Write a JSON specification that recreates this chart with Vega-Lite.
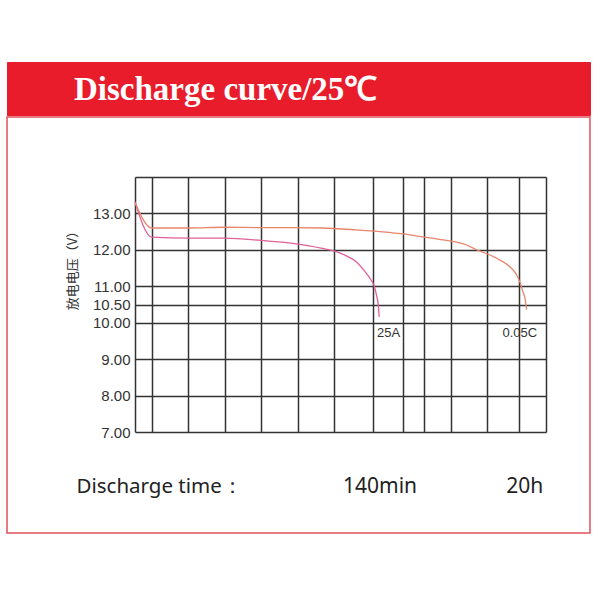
{
  "$schema": "https://vega.github.io/schema/vega-lite/v6.json",
  "padding": {"left": 6, "top": 61, "right": 9, "bottom": 67},
  "background": "white",
  "spacing": 0,
  "config": {"concat": {"spacing": 0}},
  "vconcat": [
    {
      "width": 583,
      "height": 53,
      "view": {"fill": "#e91c2b", "stroke": "#e91c2b"},
      "data": {"values": [{"title": "Discharge curve/25℃"}]},
      "mark": {"type": "text", "align": "left", "baseline": "alphabetic", "dx": -224.5, "dy": 11.5, "font": "Liberation Serif", "fontWeight": "bold", "fontSize": 33, "letterSpacing": 2, "color": "#ffffff"},
      "encoding": {"text": {"field": "title", "type": "nominal"}}
    },
    {
      "width": 583,
      "height": 416,
      "view": {"stroke": "#e0525e", "strokeWidth": 1.5},
      "resolve": {"axis": {"x": "independent", "y": "independent"}},
      "layer": [
        {
          "data": {"values": [
            {"series": "25A", "t": 0, "v": 13.31},
            {"series": "25A", "t": 4.07, "v": 12.35},
            {"series": "25A", "t": 12.98, "v": 12.32},
            {"series": "25A", "t": 21.84, "v": 12.32},
            {"series": "25A", "t": 30.68, "v": 12.26},
            {"series": "25A", "t": 37.5, "v": 12.19},
            {"series": "25A", "t": 42.37, "v": 12.11},
            {"series": "25A", "t": 45.6, "v": 12.04},
            {"series": "25A", "t": 48.45, "v": 11.97},
            {"series": "25A", "t": 51.3, "v": 11.84},
            {"series": "25A", "t": 53.74, "v": 11.68},
            {"series": "25A", "t": 55.76, "v": 11.43},
            {"series": "25A", "t": 57.39, "v": 11.18},
            {"series": "25A", "t": 58.2, "v": 11.01},
            {"series": "25A", "t": 58.75, "v": 10.76},
            {"series": "25A", "t": 59.17, "v": 10.51},
            {"series": "25A", "t": 59.41, "v": 10.16},
            {"series": "0.05C", "t": 0, "v": 13.31},
            {"series": "0.05C", "t": 4.07, "v": 12.6},
            {"series": "0.05C", "t": 12.98, "v": 12.6},
            {"series": "0.05C", "t": 21.9, "v": 12.62},
            {"series": "0.05C", "t": 30.68, "v": 12.61},
            {"series": "0.05C", "t": 37.5, "v": 12.61},
            {"series": "0.05C", "t": 45.53, "v": 12.6},
            {"series": "0.05C", "t": 53.74, "v": 12.55},
            {"series": "0.05C", "t": 61.85, "v": 12.48},
            {"series": "0.05C", "t": 65.25, "v": 12.44},
            {"series": "0.05C", "t": 70.37, "v": 12.35},
            {"series": "0.05C", "t": 74.02, "v": 12.29},
            {"series": "0.05C", "t": 77.02, "v": 12.24},
            {"series": "0.05C", "t": 80.52, "v": 12.14},
            {"series": "0.05C", "t": 82.96, "v": 12.01},
            {"series": "0.05C", "t": 85.95, "v": 11.88},
            {"series": "0.05C", "t": 88.63, "v": 11.73},
            {"series": "0.05C", "t": 91.06, "v": 11.55},
            {"series": "0.05C", "t": 92.7, "v": 11.34},
            {"series": "0.05C", "t": 93.74, "v": 11.09},
            {"series": "0.05C", "t": 94.3, "v": 10.88},
            {"series": "0.05C", "t": 94.96, "v": 10.63},
            {"series": "0.05C", "t": 95.28, "v": 10.36}
          ]},
          "mark": {"type": "line", "strokeWidth": 1.3, "interpolate": "monotone"},
          "encoding": {
            "x": {
              "field": "t", "type": "quantitative",
              "scale": {"domain": [0, 100], "range": [128, 539], "nice": false, "zero": false},
              "axis": {"orient": "top", "values": [0, 4.06, 12.97, 21.82, 30.66, 39.59, 48.42, 57.98, 65.13, 70.39, 76.89, 85.72, 93.43, 100], "labels": false, "ticks": false, "domain": false, "grid": true, "gridColor": "#333333", "gridWidth": 1.5, "gridOpacity": 1, "title": null}
            },
            "y": {
              "field": "v", "type": "quantitative",
              "scale": {"domain": [7, 14], "range": [315, 60], "nice": false, "zero": false},
              "axis": {"orient": "left", "offset": -128, "values": [7, 8, 9, 10, 10.5, 11, 12, 13, 14], "labelExpr": "datum.value == 14 ? '' : format(datum.value, '.2f')", "ticks": false, "tickSize": 0, "domain": false, "labelPadding": 5, "labelFont": "Liberation Sans", "labelFontSize": 15, "labelColor": "#333333", "grid": true, "gridColor": "#333333", "gridWidth": 1.5, "gridOpacity": 1, "title": "放电电压（V）", "titleFont": "Noto Sans CJK SC", "titleFontSize": 13, "titleFontWeight": "normal", "titleColor": "#333333", "titleAngle": -90, "titleX": -63, "titleY": 150, "titleAlign": "center", "titleBaseline": "middle"}
            },
            "color": {"field": "series", "type": "nominal", "scale": {"domain": ["25A", "0.05C"], "range": ["#e0609a", "#e8866c"]}, "legend": null}
          }
        },
        {
          "data": {"values": [
            {"label": "25A", "t": 58.9, "v": 9.73},
            {"label": "0.05C", "t": 89.4, "v": 9.73}
          ]},
          "mark": {"type": "text", "align": "left", "baseline": "middle", "font": "Liberation Sans", "fontSize": 13, "color": "#333333"},
          "encoding": {
            "x": {
              "field": "t", "type": "quantitative",
              "scale": {"domain": [0, 100], "range": [128, 539], "nice": false, "zero": false},
              "axis": {"orient": "bottom", "offset": -41, "values": [59.5, 94.7], "labelExpr": "datum.value < 70 ? '140min' : '20h'", "ticks": false, "tickSize": 0, "domain": false, "grid": false, "labelPadding": 0, "labelBaseline": "alphabetic", "labelFont": "Noto Sans", "labelFontSize": 21, "labelColor": "#222222", "title": "Discharge time：", "titleFont": "Noto Sans", "titleFontSize": 20.5, "titleFontWeight": "normal", "titleColor": "#222222", "titleX": 69, "titleY": 0, "titleAlign": "left", "titleBaseline": "alphabetic", "titleAngle": 0}
            },
            "y": {"field": "v", "type": "quantitative", "scale": {"domain": [7, 14], "range": [315, 60], "nice": false, "zero": false}, "axis": null},
            "text": {"field": "label", "type": "nominal"}
          }
        }
      ]
    }
  ]
}
